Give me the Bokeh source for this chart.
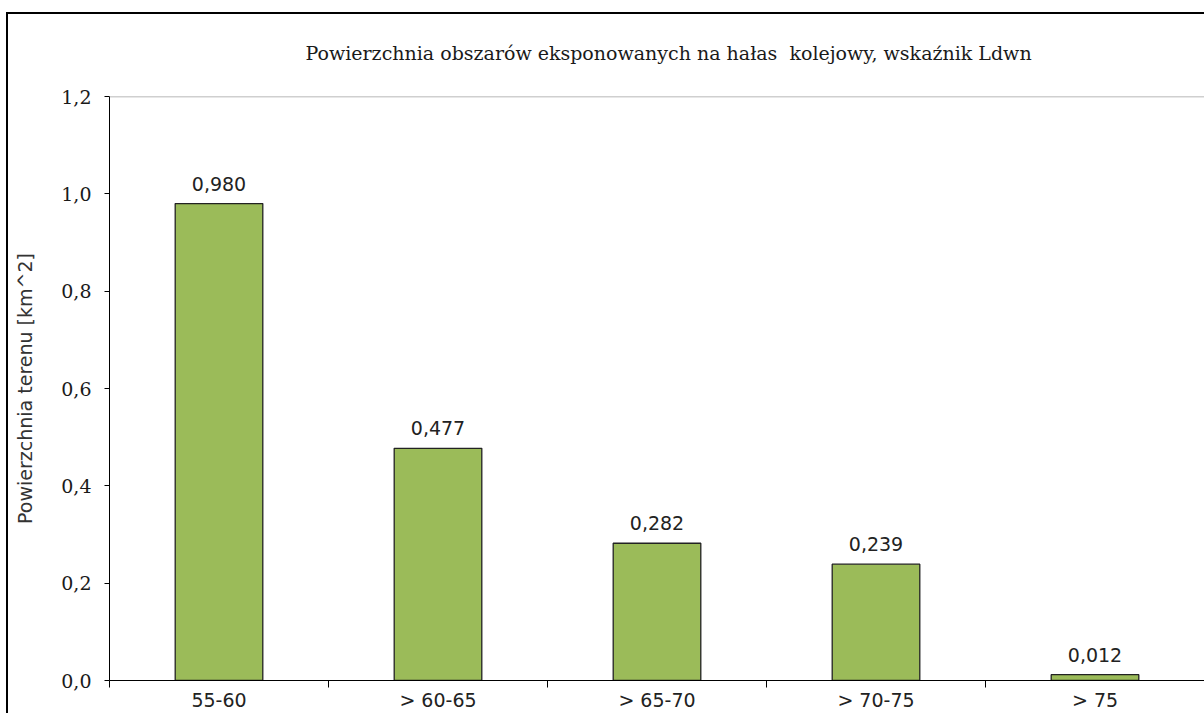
from bokeh.plotting import figure
from bokeh.models import (Range1d, FixedTicker, CustomJSTickFormatter, Span,
                          ColumnDataSource)
from bokeh.embed import file_html
from bokeh.resources import INLINE
from bokeh.core.properties import value

# ---- data ----
categories = ["55-60", "> 60-65", "> 65-70", "> 70-75", "> 75"]
values = [0.980, 0.477, 0.282, 0.239, 0.012]
y_ticks = [0.0, 0.2, 0.4, 0.6, 0.8, 1.0, 1.2]
title_text = "Powierzchnia obszarów eksponowanych na hałas\u00a0 kolejowy, wskaźnik Ldwn"
y_label = "Powierzchnia terenu [km^2]"

xs = [i + 0.5 for i in range(len(categories))]
labels = [f"{v:.3f}".replace(".", ",") for v in values]
src = ColumnDataSource(dict(x=xs, top=values, label=labels))

p = figure(width=1204, height=713, output_backend="svg", toolbar_location=None,
           x_range=Range1d(0, len(categories)), y_range=Range1d(0, 1.2),
           min_border_left=109, min_border_right=0, min_border_top=96,
           min_border_bottom=0, background_fill_color="white",
           border_fill_color=None, outline_line_color=None)

# outer chart border (drawn as the host element's background)
p.styles = {
    "background": ("linear-gradient(#000, #000) 6px 12px / 100% 2px no-repeat, "
                   "linear-gradient(#000, #000) 6px 12px / 2px 100% no-repeat, "
                   "#ffffff"),
}

p.title.text = title_text
p.title.text_font = "DejaVu Serif"
p.title.text_font_size = "19px"
p.title.text_font_style = "normal"
p.title.text_color = "#1a1a1a"
p.title.align = "left"
p.title.offset = 196
p.title.standoff = 65

p.xgrid.visible = False
p.ygrid.visible = False

# top border of plot area
p.add_layout(Span(location=1.2, dimension="width", line_color="#a0a0a0", line_width=1.5))

p.vbar(x="x", top="top", width=0.4, source=src, fill_color="#9BBB59",
       line_color="#222222", line_width=1.3)

p.text(x="x", y="top", text="label", source=src, text_align="center",
       text_baseline="bottom", y_offset=-13, text_font=value("DejaVu Sans"),
       text_font_size="19px", text_color="#222222")

# y axis
p.yaxis.ticker = FixedTicker(ticks=y_ticks)
p.yaxis.formatter = CustomJSTickFormatter(code="return tick.toFixed(1).replace('.', ',');")
p.yaxis.major_label_text_font = "DejaVu Serif"
p.yaxis.major_label_text_font_size = "19px"
p.yaxis.major_label_text_color = "#1a1a1a"
p.yaxis.major_tick_out = 5
p.yaxis.major_tick_in = 0
p.yaxis.minor_tick_line_color = None
p.yaxis.major_label_standoff = 13
p.yaxis.axis_line_color = "black"
p.yaxis.major_tick_line_color = "black"
p.yaxis.axis_label = y_label
p.yaxis.axis_label_text_font = "DejaVu Sans"
p.yaxis.axis_label_text_font_size = "19px"
p.yaxis.axis_label_text_font_style = "normal"
p.yaxis.axis_label_text_color = "#333333"
p.yaxis.axis_label_standoff = 22

# x axis
p.xaxis.ticker = FixedTicker(ticks=xs, minor_ticks=list(range(len(categories))))
p.xaxis.formatter = CustomJSTickFormatter(args=dict(cats=categories),
                                          code="return cats[Math.round(tick - 0.5)];")
p.xaxis.major_tick_line_color = None
p.xaxis.minor_tick_line_color = "black"
p.xaxis.minor_tick_out = 7
p.xaxis.minor_tick_in = 0
p.xaxis.major_tick_out = 7
p.xaxis.major_label_standoff = 1
p.xaxis.major_label_text_font = "DejaVu Sans"
p.xaxis.major_label_text_font_size = "19px"
p.xaxis.major_label_text_color = "#222222"
p.xaxis.axis_line_color = "black"

open("out.html", "w").write(file_html(p, INLINE))
